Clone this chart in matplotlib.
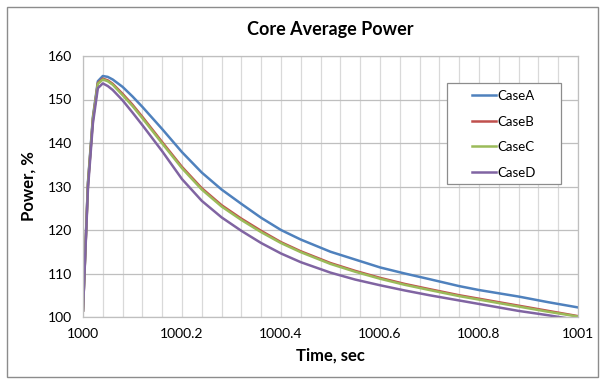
import matplotlib
matplotlib.use("Agg")
import matplotlib.pyplot as plt
from matplotlib.patches import Rectangle
from matplotlib.ticker import MultipleLocator, FuncFormatter
import numpy as np

plt.rcParams['font.family'] = ['Lato', 'DejaVu Sans']

# time after 1000 s
t = [0.00, 0.01, 0.02, 0.03, 0.04, 0.05, 0.06, 0.08, 0.10, 0.12, 0.16, 0.20,
     0.24, 0.28, 0.32, 0.36, 0.40, 0.44, 0.50, 0.55, 0.60, 0.65, 0.70, 0.76,
     0.80, 0.88, 0.94, 1.00]
case_a = [101.5, 131.0, 146.0, 154.2, 155.4, 155.2, 154.6, 152.9, 150.7, 148.3, 143.2, 137.9,
          133.2, 129.3, 126.0, 122.8, 120.0, 117.8, 115.0, 113.2, 111.4, 110.0, 108.7, 107.1,
          106.2, 104.7, 103.4, 102.2]
case_b = [101.5, 130.5, 145.5, 153.8, 154.8, 154.4, 153.6, 151.3, 148.8, 146.0, 140.2, 134.5,
          129.6, 125.7, 122.6, 119.8, 117.2, 115.1, 112.4, 110.6, 109.0, 107.6, 106.4, 105.0,
          104.2, 102.6, 101.4, 100.2]
case_c = [101.5, 130.5, 145.5, 153.6, 154.6, 154.2, 153.4, 151.0, 148.5, 145.7, 139.9, 134.2,
          129.3, 125.4, 122.3, 119.5, 117.0, 114.9, 112.2, 110.4, 108.8, 107.4, 106.2, 104.8,
          104.0, 102.4, 101.2, 100.1]
case_d = [101.5, 129.5, 144.5, 152.6, 153.7, 153.1, 152.2, 149.8, 147.0, 144.1, 138.1, 131.7,
          126.7, 122.9, 119.8, 117.0, 114.6, 112.6, 110.2, 108.6, 107.3, 106.1, 105.0, 103.8,
          103.0, 101.4, 100.4, 99.3]

labels = ["CaseA", "CaseB", "CaseC", "CaseD"]
colors = ["#4F81BD", "#C0504D", "#9BBB59", "#8064A2"]

fig = plt.figure(figsize=(6.03, 3.80), dpi=100)
fig.patches.append(Rectangle((7/603, 3/380), 591/603, 370/380, transform=fig.transFigure,
                             fill=False, edgecolor="#8c8c8c", linewidth=1.0))
ax = fig.add_axes([83/603, 1 - 317/380, 495/603, 261/380])

x = 1000 + np.array(t)
for y, lab, c in zip([case_a, case_b, case_c, case_d], labels, colors):
    ax.plot(x, y, color=c, linewidth=1.8, label=lab)

ax.set_xlim(1000, 1001)
ax.set_ylim(100, 160)
ax.xaxis.set_major_locator(MultipleLocator(0.2))
ax.xaxis.set_minor_locator(MultipleLocator(0.04))
ax.yaxis.set_major_locator(MultipleLocator(10))
ax.xaxis.set_major_formatter(FuncFormatter(lambda v, p: "%g" % round(v, 1)))
ax.grid(which="minor", axis="x", color="#d9d9d9", linewidth=0.9)
ax.grid(which="major", axis="x", color="#d9d9d9", linewidth=0.9)
ax.grid(which="major", axis="y", color="#bfbfbf", linewidth=0.9)
ax.set_axisbelow(True)
ax.tick_params(which="both", length=0, labelsize=10, labelcolor="black", pad=8)
for s in ax.spines.values():
    s.set_color("#bfbfbf")
    s.set_linewidth(0.9)

ax.set_title("Core Average Power", fontsize=13, fontweight="bold", pad=15)
ax.set_xlabel("Time, sec", fontsize=12, fontweight="bold", labelpad=5)
ax.set_ylabel("Power, %", fontsize=12, fontweight="bold", labelpad=8)

# legend box drawn separately so the padding can match
ax.add_patch(Rectangle((0.7354, 0.5096), 0.2303, 0.387, transform=ax.transAxes,
                       facecolor="white", edgecolor="#8c8c8c", linewidth=0.9,
                       zorder=4, clip_on=False))
leg = ax.legend(loc="upper left", bbox_to_anchor=(0.786, 0.87), fontsize=9.5,
                frameon=False, handlelength=1.8, handletextpad=0.1,
                labelspacing=1.03, borderpad=0, borderaxespad=0)
leg.set_zorder(5)

fig.savefig("out.png", dpi=100)
